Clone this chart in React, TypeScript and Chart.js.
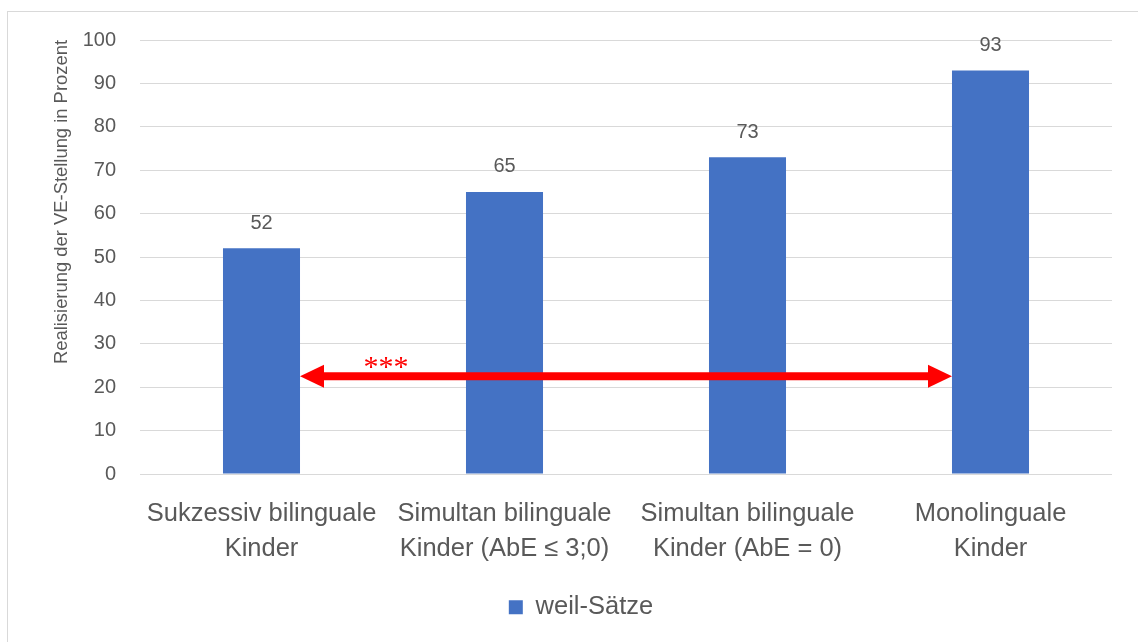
import { useEffect, useRef } from "react";
import { Chart, registerables } from "chart.js";

Chart.register(...registerables);

// ---- data ----
const categories: string[][] = [
  ["Sukzessiv bilinguale", "Kinder"],
  ["Simultan bilinguale", "Kinder (AbE ≤ 3;0)"],
  ["Simultan bilinguale", "Kinder (AbE = 0)"],
  ["Monolinguale", "Kinder"],
];
const seriesLabel = "weil-Sätze";
const seriesValues = [52, 65, 73, 93];
const yMin = 0;
const yMax = 100;
const yStep = 10;
const yAxisTitle = "Realisierung der VE-Stellung in Prozent";
// significance arrow between two categories
const arrowFromIndex = 0;
const arrowToIndex = 3;
const arrowValue = 22.5;
const significanceLabel = "***";

// ---- styles ----
const FONT = "'Liberation Sans', Arial, sans-serif";
const TEXT = "#595959";
const BAR = "#4472C4";
const GRID = "#d9d9d9";
const RED = "#FF0000";

const dataLabelPlugin = {
  id: "dataLabels",
  afterDatasetsDraw(chart: any) {
    const { ctx } = chart;
    const meta = chart.getDatasetMeta(0);
    ctx.save();
    ctx.font = `20px ${FONT}`;
    ctx.fillStyle = TEXT;
    ctx.textAlign = "center";
    ctx.textBaseline = "middle";
    meta.data.forEach((el: any, i: number) => {
      ctx.fillText(String(seriesValues[i]), el.x, el.y - 25);
    });
    ctx.restore();
  },
};

const arrowPlugin = {
  id: "sigArrow",
  afterDatasetsDraw(chart: any) {
    const { ctx, scales } = chart;
    const meta = chart.getDatasetMeta(0);
    const a = meta.data[arrowFromIndex];
    const b = meta.data[arrowToIndex];
    if (!a || !b) return;
    const x1 = a.x + a.width / 2;
    const x2 = b.x - b.width / 2;
    const y = scales.y.getPixelForValue(arrowValue);
    const head = 24;
    const half = 11.5;
    ctx.save();
    ctx.strokeStyle = RED;
    ctx.fillStyle = RED;
    ctx.lineWidth = 8;
    ctx.beginPath();
    ctx.moveTo(x1 + head - 2, y);
    ctx.lineTo(x2 - head + 2, y);
    ctx.stroke();
    ctx.beginPath();
    ctx.moveTo(x1, y);
    ctx.lineTo(x1 + head, y - half);
    ctx.lineTo(x1 + head, y + half);
    ctx.closePath();
    ctx.fill();
    ctx.beginPath();
    ctx.moveTo(x2, y);
    ctx.lineTo(x2 - head, y - half);
    ctx.lineTo(x2 - head, y + half);
    ctx.closePath();
    ctx.fill();
    // significance stars
    const sx = scales.x.getPixelForValue(arrowFromIndex + 0.5);
    ctx.font = `30px 'Liberation Serif', 'Times New Roman', serif`;
    ctx.textAlign = "center";
    ctx.textBaseline = "alphabetic";
    ctx.fillText(significanceLabel, sx + 3, y);
    ctx.restore();
  },
};

// shift the legend so it is centred like the reference (centre of the whole figure)
const legendShiftPlugin = {
  id: "legendShift",
  afterLayout(chart: any) {
    const lg = chart.legend;
    if (!lg) return;
    const shift = 25;
    lg.left += shift;
    lg.right += shift;
  },
};

export default function App() {
  const ref = useRef<HTMLCanvasElement | null>(null);

  useEffect(() => {
    if (!ref.current) return;
    const chart = new Chart(ref.current, {
      type: "bar",
      data: {
        labels: categories,
        datasets: [
          {
            label: seriesLabel,
            data: seriesValues,
            backgroundColor: BAR,
            borderWidth: 0,
            barPercentage: 0.317,
            categoryPercentage: 1,
          },
        ],
      },
      options: {
        animation: false,
        responsive: false,
        maintainAspectRatio: false,
        layout: { padding: { top: 40, right: 26, bottom: 12, left: 0 } },
        plugins: {
          tooltip: { enabled: false },
          legend: {
            position: "bottom",
            labels: {
              boxWidth: 14,
              boxHeight: 14,
              padding: 10,
              color: TEXT,
              font: { family: FONT, size: 25.5 },
            },
          },
        },
        scales: {
          x: {
            grid: { display: false, drawTicks: false },
            border: { display: false },
            ticks: {
              color: TEXT,
              font: { family: FONT, size: 25.5, lineHeight: 35 / 25.5 },
              padding: 22,
              maxRotation: 0,
              autoSkip: false,
            },
            afterFit(scale: any) {
              scale.height = 110.5;
            },
          },
          y: {
            min: yMin,
            max: yMax,
            grid: { color: GRID, lineWidth: 1, drawTicks: false },
            border: { display: false },
            ticks: {
              stepSize: yStep,
              color: TEXT,
              font: { family: FONT, size: 20 },
              padding: 24,
            },
            title: {
              display: true,
              text: yAxisTitle,
              align: "end",
              color: TEXT,
              font: { family: FONT, size: 18.4 },
              padding: { top: 51, bottom: 0 },
            },
            afterFit(scale: any) {
              scale.width = 140;
            },
          },
        },
      },
      plugins: [dataLabelPlugin, arrowPlugin, legendShiftPlugin],
    } as any);
    return () => chart.destroy();
  }, []);

  return (
    <div style={{ position: "fixed", left: 0, top: 0, width: 1138, height: 642, background: "#fff" }}>
      <canvas ref={ref} width={1138} height={642} style={{ position: "absolute", left: 0, top: 0 }} />
      <div
        style={{
          position: "absolute",
          left: 7,
          top: 11,
          width: 1140,
          height: 640,
          border: "1px solid #d9d9d9",
          pointerEvents: "none",
        }}
      />
    </div>
  );
}
